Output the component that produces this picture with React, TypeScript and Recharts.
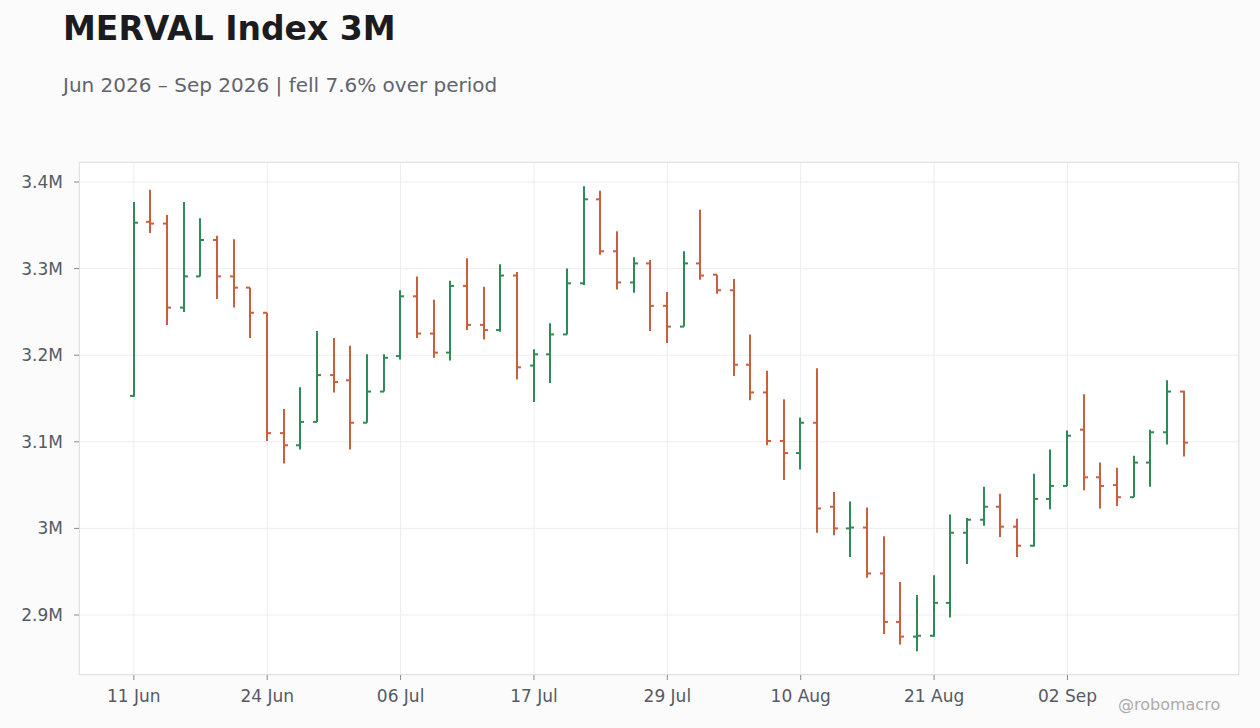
import { Bar, CartesianGrid, ComposedChart, XAxis, YAxis } from "recharts"

// trading days (Merval, holidays skipped)
const dates = [
  "11 Jun", "12 Jun", "16 Jun", "17 Jun", "18 Jun", "19 Jun", "22 Jun", "23 Jun",
  "24 Jun", "25 Jun", "26 Jun", "29 Jun", "30 Jun", "01 Jul", "02 Jul", "03 Jul",
  "06 Jul", "07 Jul", "08 Jul", "10 Jul", "13 Jul", "14 Jul", "15 Jul", "16 Jul",
  "17 Jul", "20 Jul", "21 Jul", "22 Jul", "23 Jul", "24 Jul", "27 Jul", "28 Jul",
  "29 Jul", "30 Jul", "31 Jul", "03 Aug", "04 Aug", "05 Aug", "06 Aug", "07 Aug",
  "10 Aug", "11 Aug", "12 Aug", "13 Aug", "14 Aug", "18 Aug", "19 Aug", "20 Aug",
  "21 Aug", "24 Aug", "25 Aug", "26 Aug", "27 Aug", "28 Aug", "31 Aug", "01 Sep",
  "02 Sep", "03 Sep", "04 Sep", "07 Sep", "08 Sep", "09 Sep", "10 Sep", "11 Sep",
]

// prices in thousands of points
const open = [
  3153, 3354, 3352, 3255, 3291, 3333, 3291, 3278, 3249, 3110, 3096, 3123, 3177, 3171, 3122, 3158,
  3199, 3268, 3225, 3203, 3280, 3235, 3229, 3292, 3188, 3201, 3224, 3283, 3380, 3320, 3284, 3306,
  3257, 3233, 3306, 3293, 3275, 3189, 3157, 3101, 3087, 3122, 3025, 3000, 3001, 2948, 2892, 2875,
  2876, 2914, 2995, 3010, 3025, 3002, 2980, 3034, 3049, 3114, 3059, 3050, 3036, 3076, 3111, 3158,
]
const high = [
  3377, 3391, 3362, 3377, 3358, 3338, 3334, 3278, 3249, 3138, 3163, 3228, 3220, 3211, 3201, 3201,
  3275, 3291, 3264, 3286, 3312, 3279, 3305, 3296, 3207, 3237, 3300, 3395, 3390, 3343, 3313, 3310,
  3273, 3320, 3368, 3293, 3288, 3224, 3182, 3149, 3128, 3185, 3042, 3031, 3024, 2991, 2938, 2923,
  2946, 3016, 3012, 3048, 3040, 3011, 3063, 3091, 3113, 3155, 3076, 3070, 3084, 3114, 3171, 3159,
]
const low = [
  3152, 3341, 3235, 3250, 3291, 3265, 3255, 3220, 3101, 3075, 3091, 3123, 3157, 3091, 3122, 3158,
  3195, 3220, 3197, 3194, 3229, 3218, 3227, 3172, 3146, 3168, 3224, 3281, 3316, 3276, 3272, 3228,
  3214, 3233, 3287, 3271, 3176, 3148, 3096, 3056, 3068, 2995, 2992, 2967, 2943, 2878, 2866, 2858,
  2875, 2897, 2959, 3003, 2990, 2967, 2979, 3022, 3049, 3044, 3023, 3026, 3036, 3048, 3097, 3083,
]
const close = [
  3353, 3352, 3255, 3291, 3333, 3291, 3278, 3249, 3110, 3096, 3123, 3177, 3169, 3122, 3158, 3197,
  3268, 3225, 3203, 3280, 3235, 3229, 3292, 3186, 3201, 3224, 3283, 3380, 3320, 3284, 3306, 3257,
  3233, 3306, 3292, 3275, 3189, 3157, 3101, 3087, 3122, 3023, 3000, 3001, 2948, 2892, 2875, 2876,
  2914, 2995, 3010, 3025, 3002, 2980, 3034, 3049, 3107, 3059, 3049, 3036, 3076, 3111, 3158, 3099,
]

const yTicks = [2900000, 3000000, 3100000, 3200000, 3300000, 3400000]

const UP = "#2e8b57"
const DOWN = "#c9603d"

const rows = dates.map((date, i) => ({
  date,
  open: open[i] * 1000,
  high: high[i] * 1000,
  low: low[i] * 1000,
  close: close[i] * 1000,
}))

const OhlcBar = (props: any) => {
  const { x, y, width, height, payload } = props
  const top = Math.min(y, y + height)
  const h = Math.abs(height)
  const range = payload.high - payload.low || 1
  const toY = (v: number) => top + ((payload.high - v) / range) * h
  const cx = Math.round(x + width / 2)
  const color = payload.close >= payload.open ? UP : DOWN
  return (
    <g stroke={color} strokeWidth={2}>
      <line x1={cx} x2={cx} y1={top} y2={top + h} />
      <line x1={cx - 4} x2={cx} y1={toY(payload.open)} y2={toY(payload.open)} />
      <line x1={cx} x2={cx + 4} y1={toY(payload.close)} y2={toY(payload.close)} />
    </g>
  )
}

const App = () => {
  return (
    <div
      style={{
        position: "absolute",
        left: 0,
        top: 0,
        width: 1260,
        height: 728,
        background: "#fbfbfb",
        fontFamily: "'DejaVu Sans', sans-serif",
      }}
    >
      <div style={{ position: "absolute", left: 63, top: 11.5, fontSize: 33, lineHeight: 1, fontWeight: 700, color: "#1b1b20" }}>
        MERVAL Index 3M
      </div>
      <div style={{ position: "absolute", left: 63, top: 75, fontSize: 20, lineHeight: 1, color: "#61646e" }}>
        Jun 2026 – Sep 2026 | fell 7.6% over period
      </div>

      <ComposedChart width={1260} height={728} data={rows} margin={{ top: 162, right: 21, bottom: 0, left: 0 }}>
        <CartesianGrid stroke="#ededed" fill="#ffffff" />
        <XAxis
          dataKey="date"
          interval={7}
          padding={{ left: 46.5, right: 46.5 }}
          height={53}
          tickSize={5}
          tickMargin={10}
          axisLine={false}
          tickLine={{ stroke: "#8a8a8a" }}
          tick={{ fill: "#555a64", fontSize: 17 }}
        />
        <YAxis
          width={79}
          domain={[2830700, 3423100]}
          ticks={yTicks}
          tickFormatter={(v: number) => `${+(v / 1e6).toFixed(1)}M`}
          tickSize={5}
          tickMargin={11}
          axisLine={false}
          tickLine={{ stroke: "#8a8a8a" }}
          tick={{ fill: "#555a64", fontSize: 17 }}
        />
        <Bar dataKey={(d: any) => [d.low, d.high]} barSize={8} shape={<OhlcBar />} isAnimationActive={false} />
      </ComposedChart>

      <div
        style={{
          position: "absolute",
          left: 79,
          top: 162,
          width: 1160,
          height: 513,
          boxSizing: "border-box",
          border: "1px solid #e2e2e2",
          pointerEvents: "none",
        }}
      />
      <div style={{ position: "absolute", left: 1118, top: 697, fontSize: 16, lineHeight: 1, color: "#ababab" }}>
        @robomacro
      </div>
    </div>
  )
}

export default App
